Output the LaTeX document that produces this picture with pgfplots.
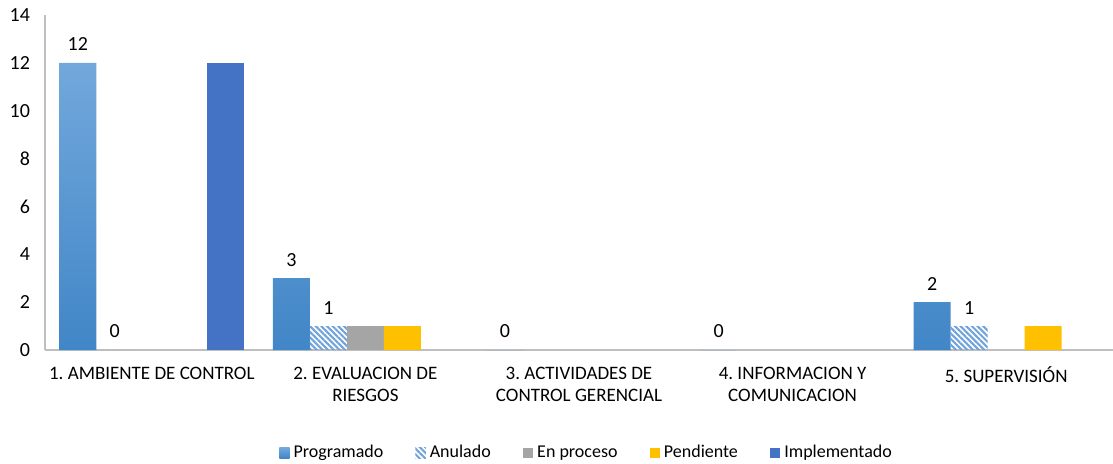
\documentclass[border=0pt]{standalone}
\usepackage{fontspec}
\setmainfont{Carlito}
\usepackage{pgfplots}
\pgfplotsset{compat=1.18}
\usetikzlibrary{patterns.meta}
\definecolor{progtop}{HTML}{72A8DC}
\definecolor{progbot}{HTML}{4186C7}
\definecolor{anul}{HTML}{6FA3DA}
\definecolor{enproc}{HTML}{A5A5A5}
\definecolor{pend}{HTML}{FFC000}
\definecolor{impl}{HTML}{4472C4}
\definecolor{axisgray}{HTML}{BFBFBF}

\begin{document}
\frenchspacing
\begin{tikzpicture}
\useasboundingbox (-22.5pt,-56.5pt) rectangle (534pt,175pt);
\begin{axis}[
    scale only axis, width=534pt, height=167.5pt,
    ybar=0pt, bar width=18.5pt,
    xmin=-0.5, xmax=4.5, ymin=0, ymax=14,
    ytick={0,2,...,14}, xtick={0,1,2,3,4},
    xticklabels={1. AMBIENTE DE CONTROL, {2. EVALUACION DE\\RIESGOS}, {3. ACTIVIDADES DE\\CONTROL GERENCIAL}, {4. INFORMACION Y\\COMUNICACION}, 5. SUPERVISIÓN},
    axis lines*=left, axis line style={draw=axisgray, line width=0.8pt},
    major tick length=0pt,
    /pgf/number format/assume math mode=true,
    font=\fontsize{9.5}{11}\selectfont,
    yticklabel style={xshift=-4pt, font=\fontsize{10}{11}\selectfont},
    xticklabel style={align=center, yshift=-5pt},
    nodes near coords,
    every node near coord/.append style={font=\fontsize{10}{11}\selectfont, text=black, yshift=2.5pt},
    legend columns=5,
    legend style={draw=none, fill=none, at={(axis description cs:0.508,-0.307)}, anchor=center,
        font=\fontsize{9}{11}\selectfont,
        /tikz/every even column/.append style={column sep=14pt}},
    legend image code/.code={\fill[#1] (0pt,-2.6pt) rectangle (5.2pt,2.6pt);},
]
\addplot[draw=none, top color=progtop, bottom color=progbot] coordinates {(0,12) (1,3) (2,0) (3,0) (4,2)};
\addlegendentry{Programado}
\addplot[draw=none, pattern={Lines[angle=-45, distance=2pt, line width=1.05pt]}, pattern color=anul] coordinates {(0,0) (1,1) (4,1)};
\addlegendentry{Anulado}
\addplot[draw=none, fill=enproc, nodes near coords=\empty] coordinates {(1,1)};
\addlegendentry{En proceso}
\addplot[draw=none, fill=pend, nodes near coords=\empty] coordinates {(1,1) (4,1)};
\addlegendentry{Pendiente}
\addplot[draw=none, fill=impl, nodes near coords=\empty] coordinates {(0,12)};
\addlegendentry{Implementado}
\end{axis}
\end{tikzpicture}
\end{document}
